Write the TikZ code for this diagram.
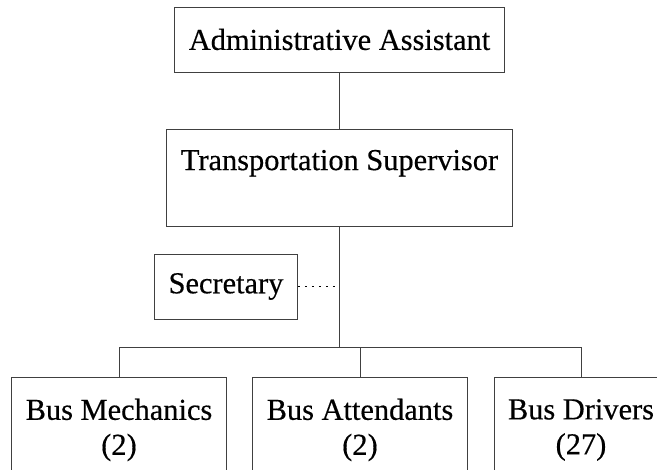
\documentclass[tikz,border=0pt]{standalone}
\usepackage{fontspec}
\setmainfont[FakeBold=0.4]{Liberation Serif}

\begin{document}
\begin{tikzpicture}[x=1pt,y=1pt,
		box/.style={draw=black!75, line width=0.8pt, inner xsep=14pt, align=center, font=\fontsize{30.4}{35}\selectfont},
		link/.style={draw=black!75, line width=0.8pt}]
			\clip (0,0) rectangle (657,470);
			\node[box, minimum height=65pt] (admin) at (339.5,430.5) {Administrative Assistant};
			\node[box, minimum height=97pt] (super) at (339.5,292.5) {Transportation Supervisor\\ \mbox{}};
			\node[box, minimum height=65pt] (secretary) at (226,183.5) {Secretary};
			\node[box, minimum height=106pt] (mech) at (119,40) {Bus Mechanics\\(2)};
			\node[box, minimum height=106pt] (attend) at (360,40) {Bus Attendants\\(2)};
			\node[box, minimum height=106pt] (drivers) at (581,40) {Bus Drivers\\(27)};
			\coordinate (bus) at (super.south |- 0,123);

			\draw[link] (admin) -- (super);
			\draw[link] (super.south) -- (bus);
			\draw[link] (mech.north) -- (mech.north |- bus) -- (drivers.north |- bus) -- (drivers.north);
			\draw[link] (attend.north) -- (attend.north |- bus);
			\draw[link, draw=black, line width=1.2pt, dash pattern=on 2.5pt off 4.5pt] (secretary.east) -- (secretary.east -| super.south);
		\end{tikzpicture}
\end{document}
